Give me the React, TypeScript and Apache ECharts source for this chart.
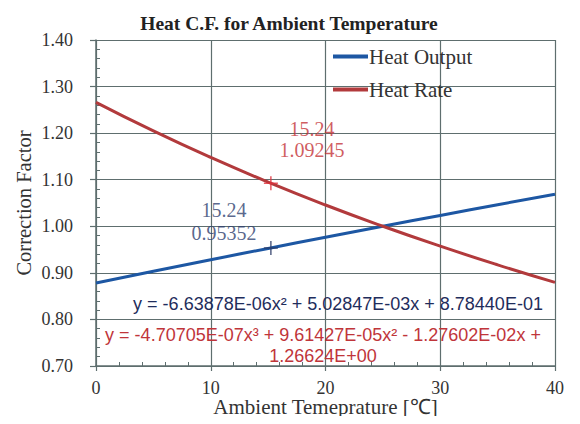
import React, { useEffect, useRef } from "react";
import * as echarts from "echarts";

const temps = [0, 5, 10, 15, 20, 25, 30, 35, 40];
const heatOutput = [0.8784, 0.9034, 0.9281, 0.9524, 0.9764, 1.0, 1.0233, 1.0463, 1.069];
const heatRate = [1.2662, 1.2048, 1.1478, 1.0949, 1.0457, 1.0, 0.9573, 0.9172, 0.8795];
const markerX = 15.24;
const outputMarkerY = 0.95352;
const rateMarkerY = 1.09245;
const seriesNames = ["Heat Output", "Heat Rate"];
const outputEquation = "y = -6.63878E-06x² + 5.02847E-03x + 8.78440E-01";
const rateEquation = "y = -4.70705E-07x³ + 9.61427E-05x² - 1.27602E-02x +\n1.26624E+00";

const BLUE = "#1d57a3";
const RED = "#b23a3c";
const GRID = "#5e6e6e";
const SERIF = "'Liberation Serif', 'Times New Roman', serif";
const SANS = "'Liberation Sans', Arial, sans-serif";

export default function App() {
  const ref = useRef<HTMLDivElement>(null);
  useEffect(() => {
    if (!ref.current) return;
    const chart = echarts.init(ref.current, undefined, { renderer: "svg" });
    const grid = { left: 96, right: 25, top: 40, bottom: 58, outerBoundsMode: "none" };
    chart.setOption({
      animation: false,
      backgroundColor: "#ffffff",
      title: {
        text: "Heat C.F. for Ambient Temperature",
        left: 284,
        top: 8,
        textAlign: "center",
        textStyle: { fontFamily: SERIF, fontSize: 19.5, fontWeight: "bold", color: "#222" },
      },
      legend: {
        orient: "vertical",
        left: 328,
        top: 41,
        itemGap: 12,
        itemWidth: 35,
        itemHeight: 4,
        icon: "rect",
        data: seriesNames,
        textStyle: {
          fontFamily: SERIF,
          fontSize: 21,
          lineHeight: 21,
          color: "#333",
          padding: [0, 0, 0, -4],
        },
      },
      grid,
      xAxis: [
        {
          type: "value",
          min: 0,
          max: 40,
          interval: 10,
          name: "Ambient Temeprature [℃]",
          nameLocation: "middle",
          nameGap: 31,
          nameMoveOverlap: false,
          nameTextStyle: {
            fontFamily: SERIF,
            fontSize: 21,
            lineHeight: 20,
            color: "#333",
          },
          axisLine: { show: true, lineStyle: { color: GRID, width: 1.5 } },
          axisTick: { show: true, length: 5, lineStyle: { color: GRID, width: 1.2 } },
          axisLabel: { fontFamily: SERIF, fontSize: 18, lineHeight: 18, color: "#333", margin: 13 },
          splitLine: { show: true, lineStyle: { color: GRID, width: 1.2 } },
        },
        {
          type: "value",
          min: 0,
          max: 40,
          interval: 2,
          position: "bottom",
          offset: 0,
          axisLine: { show: false },
          axisTick: { show: true, inside: true, length: 4, lineStyle: { color: GRID, width: 1 } },
          axisLabel: { show: false },
          splitLine: { show: false },
        },
      ],
      yAxis: [
        {
          type: "value",
          min: 0.7,
          max: 1.4,
          interval: 0.1,
          name: "Correction Factor",
          nameLocation: "middle",
          nameGap: 62,
          nameMoveOverlap: false,
          nameTextStyle: { fontFamily: SERIF, fontSize: 20.5, color: "#333" },
          axisLine: { show: true, lineStyle: { color: GRID, width: 1.5 } },
          axisTick: { show: true, length: 6, lineStyle: { color: GRID, width: 1.2 } },
          axisLabel: {
            fontFamily: SERIF,
            fontSize: 18,
            color: "#333",
            margin: 23,
            formatter: (v: number) => v.toFixed(2),
          },
          splitLine: { show: true, lineStyle: { color: GRID, width: 1.2 } },
        },
        {
          type: "value",
          min: 0.7,
          max: 1.4,
          interval: 0.02,
          position: "left",
          offset: 0,
          axisLine: { show: false },
          axisTick: { show: true, inside: true, length: 4, lineStyle: { color: GRID, width: 1 } },
          axisLabel: { show: false },
          splitLine: { show: false },
        },
      ],
      series: [
        {
          name: seriesNames[0],
          type: "line",
          smooth: true,
          showSymbol: false,
          data: temps.map((t, i) => [t, heatOutput[i]]),
          lineStyle: { color: BLUE, width: 3 },
          itemStyle: { color: BLUE },
          z: 3,
        },
        {
          name: seriesNames[1],
          type: "line",
          smooth: true,
          showSymbol: false,
          data: temps.map((t, i) => [t, heatRate[i]]),
          lineStyle: { color: RED, width: 3 },
          itemStyle: { color: RED },
          z: 3,
        },
        {
          type: "scatter",
          symbol: "path://M0,-10L0,10M-10,0L10,0",
          symbolSize: 14,
          data: [[markerX, outputMarkerY]],
          itemStyle: { color: "none", borderColor: "#2b3a66", borderWidth: 1.5 },
          label: {
            show: true,
            formatter: () => `${markerX}\n${outputMarkerY}`,
            position: "top",
            offset: [-47, 11],
            fontFamily: SERIF,
            fontSize: 20,
            lineHeight: 23,
            color: "#2f3f6f",
          },
          z: 5,
        },
        {
          type: "scatter",
          symbol: "path://M0,-10L0,10M-10,0L10,0",
          symbolSize: 14,
          data: [[markerX, rateMarkerY]],
          itemStyle: { color: "none", borderColor: "#e0303a", borderWidth: 1.5 },
          label: {
            show: true,
            formatter: () => `${markerX}\n${rateMarkerY}`,
            position: "top",
            offset: [41, -8],
            fontFamily: SERIF,
            fontSize: 20,
            lineHeight: 21,
            color: "#c43236",
          },
          z: 5,
        },
      ],
      graphic: [
        {
          type: "text",
          x: 338,
          y: 304,
          style: {
            text: outputEquation,
            fontFamily: SANS,
            fontSize: 18,
            fill: "#1f2d5c",
            align: "center",
            verticalAlign: "middle",
          },
          z: 10,
        },
        {
          type: "text",
          x: 323,
          y: 345,
          style: {
            text: rateEquation,
            fontFamily: SANS,
            fontSize: 18,
            lineHeight: 21,
            fill: "#c0353a",
            align: "center",
            verticalAlign: "middle",
          },
          z: 10,
        },
      ],
    });
    return () => chart.dispose();
  }, []);
  return <div ref={ref} style={{ width: 580, height: 424, margin: -8 }} />;
}
